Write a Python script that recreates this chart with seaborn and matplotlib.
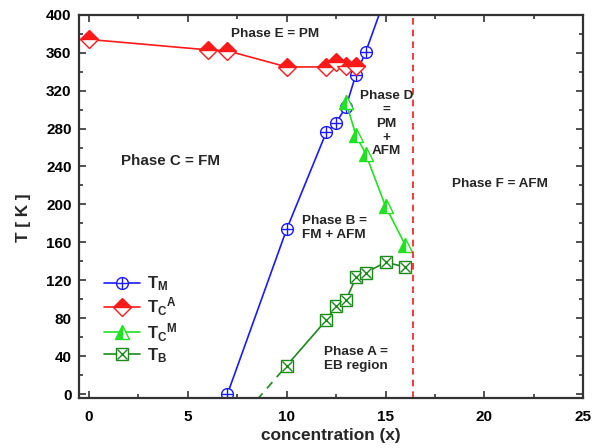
import matplotlib
matplotlib.use("Agg")
import matplotlib.pyplot as plt
from matplotlib.ticker import MultipleLocator
import seaborn as sns
import pandas as pd

# --- Data ---
TM_X = [7, 10, 12, 12.5, 13, 13.5, 14, 15]
TM_Y = [0, 174, 276, 286, 303, 337, 361, 419]  # last point lies above the frame
TCA_X = [0, 6, 7, 10, 12, 12.5, 13, 13.5]
TCA_Y = [374, 363, 362, 345, 345, 350, 346, 346]
TCM_X = [13, 13.5, 14, 15, 16]
TCM_Y = [308, 273, 253, 198, 157]
TB_X = [10, 12, 12.5, 13, 13.5, 14, 15, 16]
TB_Y = [30, 78, 93, 99, 123, 128, 139, 134]
TB_EXTRAP_X = [8.5, 10]
TB_EXTRAP_Y = [-6, 30]
BOUNDARY_X = 16.4

PHASE_LABELS = ["Phase E = PM", "Phase C = FM", "Phase D\n=\nPM\n+\nAFM",
                "Phase F = AFM", "Phase B =\nFM + AFM", "Phase A =\nEB region"]

# --- Plotting constants ---
BLUE = "#1a1aff"
RED = "#ff1a1a"
LIME = "#22e022"
DKGREEN = "#1a8a1a"
MS = 8.5
PHASE_FS = 9.7

sns.set_style("ticks")
plt.rcParams["font.family"] = ["Liberation Sans", "DejaVu Sans"]
plt.rcParams["font.weight"] = "bold"
plt.rcParams["mathtext.fontset"] = "custom"
plt.rcParams["mathtext.rm"] = "Liberation Sans:bold"
plt.rcParams["mathtext.it"] = "Liberation Sans:bold"
plt.rcParams["mathtext.bf"] = "Liberation Sans:bold"
plt.rcParams["mathtext.default"] = "rm"

fig = plt.figure(figsize=(6, 4.48), dpi=100)
ax = fig.add_axes([0.132, 0.112, 0.840, 0.855])


def series_df(xs, ys):
    return pd.DataFrame({"x": xs, "y": ys})


# T_M : open circle with a cross inside
sns.lineplot(data=series_df(TM_X, TM_Y), x="x", y="y", ax=ax, color=BLUE, lw=1.2,
             marker="o", ms=MS, mfc="white", mec=BLUE, mew=1.0, sort=False)
tm_line = ax.lines[-1]
tm_plus, = ax.plot(TM_X, TM_Y, ls="none", marker="+", ms=MS, color=BLUE, mew=1.0)

# T_C^A : half-filled diamonds
sns.lineplot(data=series_df(TCA_X, TCA_Y), x="x", y="y", ax=ax, color=RED, lw=1.2,
             marker="D", ms=MS + 0.5, mfc=RED, mec=RED, mew=1.0, fillstyle="top",
             markerfacecoloralt="white", sort=False)
tca_line = ax.lines[-1]

# T_C^M : half-filled triangles
sns.lineplot(data=series_df(TCM_X, TCM_Y), x="x", y="y", ax=ax, color=LIME, lw=1.2,
             marker="^", ms=MS + 1, mfc=LIME, mec=LIME, mew=1.0, fillstyle="left",
             markerfacecoloralt="white", sort=False)
tcm_line = ax.lines[-1]

# T_B : squares with an x inside, plus dashed extrapolation to zero
sns.lineplot(data=series_df(TB_EXTRAP_X, TB_EXTRAP_Y), x="x", y="y", ax=ax,
             color=DKGREEN, lw=1.2, ls=(0, (5, 4)), sort=False)
sns.lineplot(data=series_df(TB_X, TB_Y), x="x", y="y", ax=ax, color=DKGREEN, lw=1.2,
             marker="s", ms=MS, mfc="white", mec=DKGREEN, mew=1.0, sort=False)
tb_line = ax.lines[-1]
tb_x, = ax.plot(TB_X, TB_Y, ls="none", marker="x", ms=MS - 2, color=DKGREEN, mew=1.0)

# AFM boundary
ax.axvline(BOUNDARY_X, color=RED, lw=1.2, ls=(0, (4, 3)))

# --- Phase labels ---
ax.text(9.4, 380, PHASE_LABELS[0], fontsize=PHASE_FS, ha="center", va="center")
ax.text(4.1, 246, PHASE_LABELS[1], fontsize=10.9, ha="center", va="center")
ax.text(15.05, 285, PHASE_LABELS[2], fontsize=PHASE_FS, ha="center", va="center",
        linespacing=1.2)
ax.text(20.8, 222, PHASE_LABELS[3], fontsize=PHASE_FS, ha="center", va="center")
ax.text(12.4, 175, PHASE_LABELS[4], fontsize=PHASE_FS, ha="center", va="center",
        linespacing=1.2)
ax.text(13.5, 37, PHASE_LABELS[5], fontsize=PHASE_FS, ha="center", va="center",
        linespacing=1.2)

# --- Axes styling ---
ax.set_xlim(-0.5, 25)
ax.set_ylim(-4, 400)
ax.xaxis.set_major_locator(MultipleLocator(5))
ax.xaxis.set_minor_locator(MultipleLocator(2.5))
ax.yaxis.set_major_locator(MultipleLocator(40))
ax.yaxis.set_minor_locator(MultipleLocator(20))
ax.tick_params(which="both", direction="in", top=True, right=True,
               width=1.2, colors="#333333", labelcolor="black", labelsize=11)
ax.tick_params(which="major", length=5, pad=5.5)
ax.tick_params(axis="x", which="major", pad=8.5)
ax.tick_params(which="minor", length=3)
for spine in ax.spines.values():
    spine.set_visible(True)
    spine.set_linewidth(1.6)
    spine.set_color("#333333")
for lbl in ax.get_xticklabels() + ax.get_yticklabels():
    lbl.set_fontweight("bold")

ax.set_xlabel("concentration (x)", fontsize=12.4, fontweight="bold")
ax.set_ylabel("T [ K ]", fontsize=12.4, fontweight="bold")
ax.xaxis.set_label_coords(0.5, -0.078)
ax.yaxis.set_label_coords(-0.095, 0.47)

ax.legend([(tm_line, tm_plus), tca_line, tcm_line, (tb_line, tb_x)],
          [r"T$_M$", r"T$_C$$^A$", r"T$_C$$^M$", r"T$_B$"],
          loc="center left", bbox_to_anchor=(0.05, 0.204), frameon=False,
          fontsize=12, handlelength=2.15, handletextpad=0.4, labelspacing=0.15,
          borderaxespad=0, borderpad=0)

fig.savefig("out.png", dpi=100)
